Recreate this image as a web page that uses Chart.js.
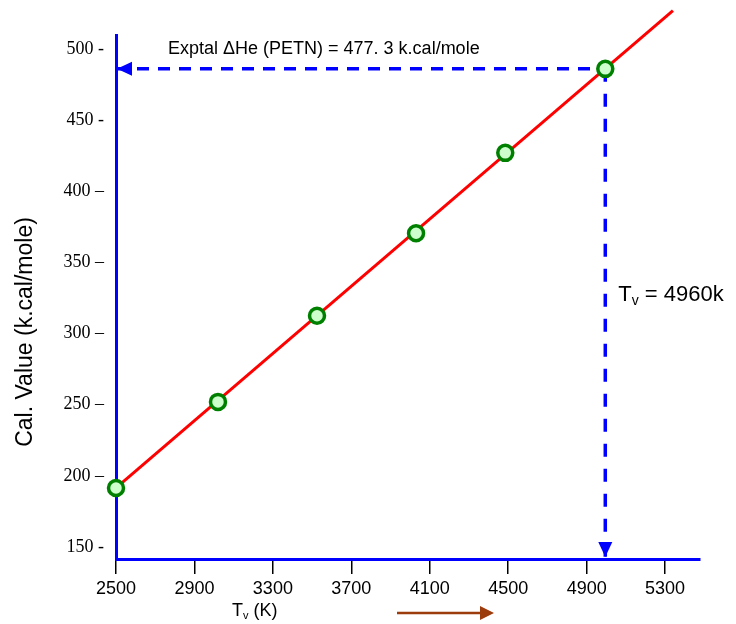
<!DOCTYPE html>
<html>
<head>
<meta charset="utf-8">
<script src="https://cdn.jsdelivr.net/npm/chart.js@4"></script>
<style>
  html, body { margin: 0; padding: 0; background: #fff; }
</style>
</head>
<body>
<canvas id="tvChart" width="736" height="624"></canvas>
<script>
// Tv (K) against calculated heat value (k.cal/mole)
var tvValues = [2500, 3020, 3525, 4030, 4485, 4995];
var calValues = [191.5, 252, 312.5, 370.5, 427, 486];

// straight line through the points, runs on past the last one
var fitX = [2500, 5340];
var fitY = [191.5, 527];

// read-off for the experimental value
var exptalY = 486;
var guideX = 4995;

var xTicks = [2500, 2900, 3300, 3700, 4100, 4500, 4900, 5300];
var yTicks = [150, 200, 250, 300, 350, 400, 450, 500];
var yTickLabels = ['150 -', '200 –', '250 –', '300 –', '350 –', '400 –', '450 -', '500 -'];

var xMin = 2500, xMax = 5478;
var yMin = 141.6, yMax = 509.8;

function pts(xs, ys) {
  return xs.map(function (x, i) { return { x: x, y: ys[i] }; });
}

var SANS = "'Liberation Sans', Arial, sans-serif";

function subText(c, x, y, main, sub, rest, size) {
  c.font = size + 'px ' + SANS;
  c.fillText(main, x, y);
  x += c.measureText(main).width;
  c.font = Math.round(size * 0.62) + 'px ' + SANS;
  c.fillText(sub, x, y + size * 0.3);
  x += c.measureText(sub).width;
  c.font = size + 'px ' + SANS;
  c.fillText(rest, x, y);
}

function tri(c, ax, ay, bx, by, cx, cy) {
  c.beginPath();
  c.moveTo(ax, ay);
  c.lineTo(bx, by);
  c.lineTo(cx, cy);
  c.closePath();
  c.fill();
}

var annotations = {
  id: 'annotations',
  afterDraw: function (chart) {
    var c = chart.ctx;
    var area = chart.chartArea;
    var xs = chart.scales.x, ys = chart.scales.y;
    var hy = ys.getPixelForValue(exptalY);
    var gx = xs.getPixelForValue(guideX);

    c.save();
    // arrow heads of the blue guides
    c.fillStyle = '#0000ff';
    tri(c, area.left + 1, hy, area.left + 16, hy - 7, area.left + 16, hy + 7);
    tri(c, gx, area.bottom - 2, gx - 7, area.bottom - 17, gx + 7, area.bottom - 17);

    c.fillStyle = '#000';
    c.textBaseline = 'middle';
    c.textAlign = 'left';
    c.font = '18px ' + SANS;
    c.fillText('Exptal \u0394He (PETN) = 477. 3 k.cal/mole', 168, 49);

    subText(c, gx + 13, 295, 'T', 'v', ' = 4960k', 22);
    subText(c, 232, 611, 'T', 'v', ' (K)', 18);

    // y title
    c.save();
    c.translate(26, 332);
    c.rotate(-Math.PI / 2);
    c.textAlign = 'center';
    c.font = '23px ' + SANS;
    c.fillText('Cal. Value (k.cal/mole)', 0, 0);
    c.restore();

    // brown arrow under the x axis
    c.strokeStyle = '#9c3b0c';
    c.fillStyle = '#9c3b0c';
    c.lineWidth = 2.5;
    c.beginPath();
    c.moveTo(397, 613);
    c.lineTo(482, 613);
    c.stroke();
    tri(c, 494, 613, 480, 606, 480, 620);
    c.restore();
  }
};

var ctx = document.getElementById('tvChart').getContext('2d');
var chart = new Chart(ctx, {
  type: 'scatter',
  data: {
    datasets: [
      {
        label: 'Cal. Value',
        data: pts(tvValues, calValues),
        pointRadius: 7.5,
        pointHoverRadius: 7.5,
        pointBackgroundColor: '#ccffcc',
        pointBorderColor: '#008000',
        pointBorderWidth: 3.5,
        clip: false,
        order: 0,
      },
      {
        label: 'fit',
        data: pts(fitX, fitY),
        showLine: true,
        borderColor: '#ff0000',
        borderWidth: 3,
        pointRadius: 0,
        clip: false,
        order: 1,
      },
      {
        label: 'exptal',
        data: [{ x: xMin, y: exptalY }, { x: guideX, y: exptalY }],
        showLine: true,
        borderColor: '#0000ff',
        borderWidth: 3.5,
        borderDash: [12, 9],
        pointRadius: 0,
        order: 2,
      },
      {
        label: 'tv',
        data: [{ x: guideX, y: exptalY }, { x: guideX, y: yMin }],
        showLine: true,
        borderColor: '#0000ff',
        borderWidth: 3.5,
        borderDash: [13, 12],
        pointRadius: 0,
        order: 2,
      },
    ],
  },
  options: {
    responsive: false,
    animation: false,
    layout: { padding: { left: 0, top: 35, right: 36, bottom: 0 } },
    plugins: {
      legend: { display: false },
      tooltip: { enabled: false },
    },
    scales: {
      x: {
        type: 'linear',
        min: xMin,
        max: xMax,
        afterBuildTicks: function (s) {
          s.ticks = xTicks.map(function (v) { return { value: v }; });
        },
        afterFit: function (s) { s.height = 65; },
        grid: { drawOnChartArea: false, drawTicks: true, tickLength: 15, color: '#000', lineWidth: 1.5 },
        border: { display: true, color: '#0000ff', width: 3 },
        ticks: {
          font: { family: 'Liberation Sans', size: 18 },
          color: '#000',
          padding: 4,
          maxRotation: 0,
          autoSkip: false,
          callback: function (v) { return String(v); },
        },
      },
      y: {
        type: 'linear',
        min: yMin,
        max: yMax,
        afterBuildTicks: function (s) {
          s.ticks = yTicks.map(function (v) { return { value: v }; });
        },
        afterFit: function (s) { s.width = 116; },
        grid: { display: false, drawTicks: false },
        border: { display: true, color: '#0000ff', width: 3 },
        ticks: {
          font: { family: 'Liberation Serif', size: 18 },
          color: '#000',
          padding: 12,
          autoSkip: false,
          callback: function (v) {
            var i = yTicks.indexOf(v);
            return i >= 0 ? yTickLabels[i] : '';
          },
        },
      },
    },
  },
  plugins: [annotations],
});
</script>
</body>
</html>
